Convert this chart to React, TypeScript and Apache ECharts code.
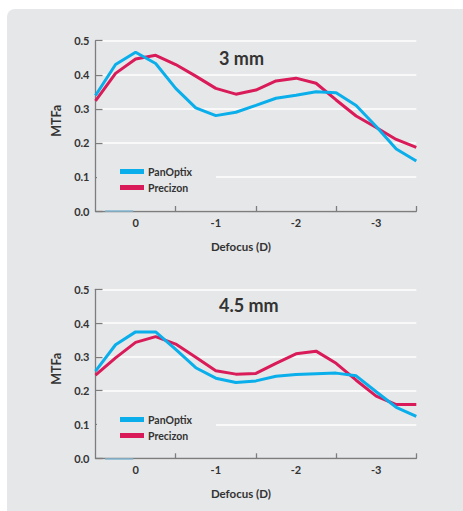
import React, { useEffect, useRef } from "react";
import * as echarts from "echarts";

// Defocus positions (D), sampled every 0.25 D
const defocus = [0.5, 0.25, 0, -0.25, -0.5, -0.75, -1, -1.25, -1.5, -1.75, -2, -2.25, -2.5, -2.75, -3, -3.25, -3.5];

// 3 mm pupil
const panOptix3 = [0.339, 0.43, 0.466, 0.433, 0.36, 0.303, 0.28, 0.29, 0.31, 0.331, 0.34, 0.35, 0.347, 0.31, 0.248, 0.182, 0.147];
const precizon3 = [0.323, 0.404, 0.446, 0.457, 0.43, 0.396, 0.36, 0.343, 0.355, 0.382, 0.39, 0.375, 0.326, 0.279, 0.245, 0.21, 0.187];

// 4.5 mm pupil
const panOptix45 = [0.258, 0.336, 0.374, 0.374, 0.322, 0.268, 0.237, 0.224, 0.229, 0.243, 0.248, 0.25, 0.252, 0.244, 0.197, 0.151, 0.124];
const precizon45 = [0.246, 0.297, 0.343, 0.36, 0.338, 0.299, 0.259, 0.249, 0.251, 0.281, 0.309, 0.317, 0.281, 0.231, 0.184, 0.159, 0.159];

const panelTitles = ["3 mm", "4.5 mm"];
const seriesNames = ["PanOptix", "Precizon"];
const xTickValues = [-0.5, -1.5, -2.5, -3.5];
const xLabelValues = [0, -1, -2, -3];
const baseSegment = [0.38, 0.03];

const BLUE = "#0aaeea";
const RED = "#d91b59";
const PANEL = "#e6e7e8";
const TEXT = "#333333";
const AXIS = "#7d7d7d";
const FONT = "Lato";

const pair = (vals: number[]) => defocus.map((d, i) => [d, vals[i]]);

export default function App() {
  const ref = useRef<HTMLDivElement>(null);

  useEffect(() => {
    if (!ref.current) return;
    const chart = echarts.init(ref.current, undefined, { renderer: "svg" });

    const grids = [
      { left: 95.5, top: 40.7, width: 320.8, height: 170.3 },
      { left: 95.5, top: 289.3, width: 320.8, height: 169 },
    ];

    const xAxes = grids.map((_, i) => ({
      type: "value",
      gridIndex: i,
      min: -3.5,
      max: 0.5,
      inverse: true,
      name: "Defocus (D)",
      nameLocation: "middle",
      nameGap: 29,
      nameTextStyle: { fontFamily: FONT, fontWeight: "bold", fontSize: 11.5, color: TEXT, padding: [0, 30, 0, 0] },
      axisLine: { show: true, onZero: false, lineStyle: { color: AXIS, width: 1.3 } },
      axisTick: { show: true, inside: true, length: 5, customValues: xTickValues, lineStyle: { color: AXIS, width: 1.3 } },
      axisLabel: {
        customValues: xLabelValues,
        margin: 6,
        fontFamily: FONT,
        fontWeight: "bold",
        fontSize: 11,
        color: TEXT,
        formatter: (v: number) => String(v),
      },
      splitLine: { show: false },
    }));

    const yAxes = grids.map((_, i) => ({
      type: "value",
      gridIndex: i,
      min: 0,
      max: 0.5,
      interval: 0.1,
      name: "MTFa",
      nameLocation: "middle",
      nameRotate: 90,
      nameGap: 30,
      nameTextStyle: { fontFamily: FONT, fontWeight: "bold", fontSize: 12.5, color: TEXT, padding: [0, 0, 0, 10] },
      axisLine: { show: true, onZero: false, lineStyle: { color: AXIS, width: 1.3 } },
      axisTick: { show: true, inside: true, length: 7, lineStyle: { color: AXIS, width: 1.3 } },
      axisLabel: {
        margin: 6,
        fontFamily: FONT,
        fontWeight: "bold",
        fontSize: 11,
        color: TEXT,
        formatter: (v: number) => v.toFixed(1),
      },
      splitLine: { show: true, lineStyle: { color: "#ffffff", width: 1.5 } },
    }));

    const datasets = [
      [panOptix3, precizon3],
      [panOptix45, precizon45],
    ];

    const series: any[] = [];
    datasets.forEach((pairVals, gi) => {
      pairVals.forEach((vals, si) => {
        const s: any = {
          type: "line",
          name: seriesNames[si],
          xAxisIndex: gi,
          yAxisIndex: gi,
          data: pair(vals),
          symbol: "none",
          lineStyle: { width: 3, color: si === 0 ? BLUE : RED },
          itemStyle: { color: si === 0 ? BLUE : RED },
          z: si === 0 ? 3 : 2,
        };
        if (si === 0) {
          s.markLine = {
            silent: true,
            symbol: "none",
            label: { show: false },
            lineStyle: { color: "#86b9d4", width: 1.5, type: "solid" },
            data: [[{ coord: [baseSegment[0], 0] }, { coord: [baseSegment[1], 0] }]],
          };
        }
        series.push(s);
      });
    });

    const legends = [166, 414].map((top) => ({
      data: seriesNames,
      orient: "vertical",
      left: 120,
      top,
      padding: 0,
      itemWidth: 24,
      itemHeight: 5,
      itemGap: 5,
      icon: "rect",
      selectedMode: false,
      textStyle: { fontFamily: FONT, fontWeight: "bold", fontSize: 10.5, color: TEXT, lineHeight: 10, padding: [0, 0, 0, -1] },
    }));

    const titles = panelTitles.map((t, i) => ({
      text: t,
      left: 219,
      top: i === 0 ? 49 : 296,
      padding: 0,
      textStyle: { fontFamily: FONT, fontWeight: "bold", fontSize: 18, color: TEXT },
    }));

    chart.setOption({
      animation: false,
      backgroundColor: "transparent",
      title: titles,
      grid: grids,
      xAxis: xAxes,
      yAxis: yAxes,
      legend: legends,
      series,
      graphic: [
        { type: "rect", z: 1, shape: { x: 97, y: 174.5, width: 119, height: 4.5 }, style: { fill: PANEL } },
        { type: "rect", z: 1, shape: { x: 97, y: 421.8, width: 119, height: 4.5 }, style: { fill: PANEL } },
      ],
    });

    return () => chart.dispose();
  }, []);

  return (
    <div style={{ position: "absolute", left: 0, top: 0, width: 463, height: 511, background: "#ffffff", overflow: "hidden" }}>
      <div
        style={{
          position: "absolute",
          left: 7,
          top: 9,
          width: 470,
          height: 520,
          background: PANEL,
          borderTopLeftRadius: 8,
        }}
      />
      <div ref={ref} style={{ position: "absolute", left: 0, top: 0, width: 463, height: 511 }} />
    </div>
  );
}
